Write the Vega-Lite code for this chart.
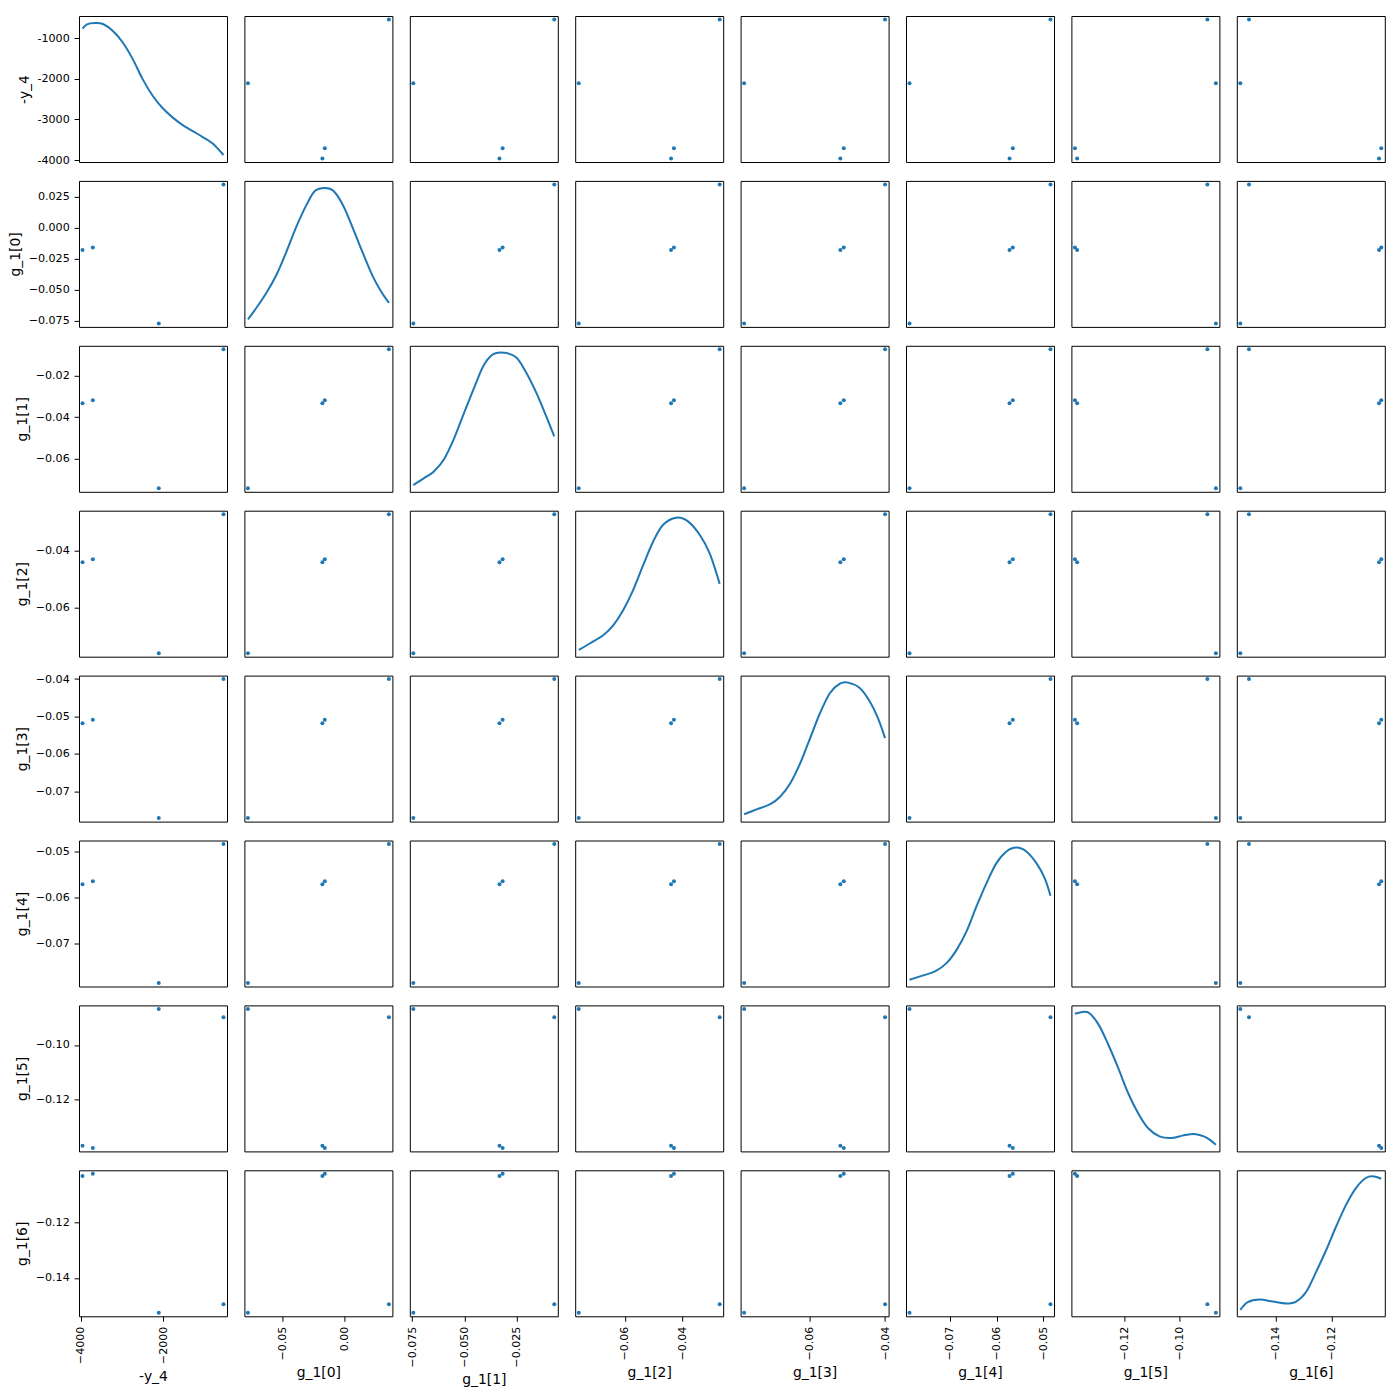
{
"$schema": "https://vega.github.io/schema/vega-lite/v6.json",
"background": "white",
"padding": {"left": 8, "top": 15, "right": 5, "bottom": 5},
"datasets": {
"pts": [
{"y4": -540, "g0": 0.0352, "g1": -0.0071, "g2": -0.0272, "g3": -0.0400, "g4": -0.0484, "g5": -0.0898, "g6": -0.1496},
{"y4": -2110, "g0": -0.0774, "g1": -0.0745, "g2": -0.0759, "g3": -0.0772, "g4": -0.0787, "g5": -0.0867, "g6": -0.1527},
{"y4": -3710, "g0": -0.0160, "g1": -0.0318, "g2": -0.0430, "g3": -0.0509, "g4": -0.0565, "g5": -0.1380, "g6": -0.1022},
{"y4": -3960, "g0": -0.0179, "g1": -0.0333, "g2": -0.0440, "g3": -0.0518, "g4": -0.0572, "g5": -0.1372, "g6": -0.1030}
],
"kde": [
{"v":"y4","x":-3960,"d":0.913},{"v":"y4","x":-3852,"d":0.943},{"v":"y4","x":-3665,"d":0.952},{"v":"y4","x":-3464,"d":0.945},{"v":"y4","x":-3223,"d":0.897},{"v":"y4","x":-2979,"d":0.817},{"v":"y4","x":-2738,"d":0.703},{"v":"y4","x":-2498,"d":0.566},{"v":"y4","x":-2254,"d":0.452},{"v":"y4","x":-2013,"d":0.368},{"v":"y4","x":-1769,"d":0.304},{"v":"y4","x":-1528,"d":0.253},{"v":"y4","x":-1284,"d":0.212},{"v":"y4","x":-1043,"d":0.171},{"v":"y4","x":-803,"d":0.126},{"v":"y4","x":-540,"d":0.048},
{"v":"g0","x":-0.0774,"d":0.052},{"v":"g0","x":-0.07017,"d":0.136},{"v":"g0","x":-0.06224,"d":0.239},{"v":"g0","x":-0.0542,"d":0.364},{"v":"g0","x":-0.04628,"d":0.523},{"v":"g0","x":-0.03836,"d":0.693},{"v":"g0","x":-0.03032,"d":0.841},{"v":"g0","x":-0.0237,"d":0.932},{"v":"g0","x":-0.01578,"d":0.952},{"v":"g0","x":-0.00916,"d":0.932},{"v":"g0","x":-0.00124,"d":0.83},{"v":"g0","x":0.00669,"d":0.67},{"v":"g0","x":0.01472,"d":0.5},{"v":"g0","x":0.02265,"d":0.341},{"v":"g0","x":0.02927,"d":0.239},{"v":"g0","x":0.0352,"d":0.164},
{"v":"g1","x":-0.0745,"d":0.046},{"v":"g1","x":-0.06953,"d":0.092},{"v":"g1","x":-0.06479,"d":0.138},{"v":"g1","x":-0.06005,"d":0.218},{"v":"g1","x":-0.05531,"d":0.356},{"v":"g1","x":-0.05057,"d":0.529},{"v":"g1","x":-0.04575,"d":0.701},{"v":"g1","x":-0.04101,"d":0.862},{"v":"g1","x":-0.03627,"d":0.943},{"v":"g1","x":-0.03075,"d":0.952},{"v":"g1","x":-0.02523,"d":0.92},{"v":"g1","x":-0.02049,"d":0.816},{"v":"g1","x":-0.01567,"d":0.678},{"v":"g1","x":-0.01093,"d":0.517},{"v":"g1","x":-0.0071,"d":0.379},
{"v":"g2","x":-0.0759,"d":0.046},{"v":"g2","x":-0.07195,"d":0.092},{"v":"g2","x":-0.06735,"d":0.149},{"v":"g2","x":-0.06392,"d":0.217},{"v":"g2","x":-0.0605,"d":0.32},{"v":"g2","x":-0.05707,"d":0.458},{"v":"g2","x":-0.0536,"d":0.629},{"v":"g2","x":-0.05017,"d":0.789},{"v":"g2","x":-0.04674,"d":0.904},{"v":"g2","x":-0.04214,"d":0.952},{"v":"g2","x":-0.03815,"d":0.927},{"v":"g2","x":-0.03411,"d":0.835},{"v":"g2","x":-0.03069,"d":0.709},{"v":"g2","x":-0.0272,"d":0.499},
{"v":"g3","x":-0.0772,"d":0.05},{"v":"g3","x":-0.07376,"d":0.085},{"v":"g3","x":-0.07028,"d":0.119},{"v":"g3","x":-0.06766,"d":0.172},{"v":"g3","x":-0.06501,"d":0.263},{"v":"g3","x":-0.06239,"d":0.4},{"v":"g3","x":-0.05977,"d":0.572},{"v":"g3","x":-0.05716,"d":0.744},{"v":"g3","x":-0.05454,"d":0.881},{"v":"g3","x":-0.05192,"d":0.945},{"v":"g3","x":-0.04973,"d":0.952},{"v":"g3","x":-0.04669,"d":0.915},{"v":"g3","x":-0.04407,"d":0.824},{"v":"g3","x":-0.04188,"d":0.709},{"v":"g3","x":-0.04,"d":0.572},
{"v":"g4","x":-0.0787,"d":0.046},{"v":"g4","x":-0.07609,"d":0.073},{"v":"g4","x":-0.07322,"d":0.103},{"v":"g4","x":-0.07074,"d":0.16},{"v":"g4","x":-0.06858,"d":0.251},{"v":"g4","x":-0.06645,"d":0.377},{"v":"g4","x":-0.06431,"d":0.548},{"v":"g4","x":-0.06215,"d":0.708},{"v":"g4","x":-0.06002,"d":0.845},{"v":"g4","x":-0.05786,"d":0.925},{"v":"g4","x":-0.05572,"d":0.952},{"v":"g4","x":-0.05359,"d":0.925},{"v":"g4","x":-0.05143,"d":0.845},{"v":"g4","x":-0.04965,"d":0.742},{"v":"g4","x":-0.0484,"d":0.621},
{"v":"g5","x":-0.138,"d":0.943},{"v":"g5","x":-0.13605,"d":0.952},{"v":"g5","x":-0.13303,"d":0.95},{"v":"g5","x":-0.12943,"d":0.87},{"v":"g5","x":-0.12587,"d":0.732},{"v":"g5","x":-0.12226,"d":0.572},{"v":"g5","x":-0.11865,"d":0.4},{"v":"g5","x":-0.11504,"d":0.263},{"v":"g5","x":-0.11143,"d":0.16},{"v":"g5","x":-0.10723,"d":0.103},{"v":"g5","x":-0.10303,"d":0.092},{"v":"g5","x":-0.09883,"d":0.108},{"v":"g5","x":-0.09463,"d":0.119},{"v":"g5","x":-0.09107,"d":0.103},{"v":"g5","x":-0.08865,"d":0.076},{"v":"g5","x":-0.0867,"d":0.046},
{"v":"g6","x":-0.1527,"d":0.044},{"v":"g6","x":-0.15004,"d":0.097},{"v":"g6","x":-0.14585,"d":0.115},{"v":"g6","x":-0.14108,"d":0.101},{"v":"g6","x":-0.13631,"d":0.088},{"v":"g6","x":-0.1327,"d":0.101},{"v":"g6","x":-0.12915,"d":0.166},{"v":"g6","x":-0.12554,"d":0.304},{"v":"g6","x":-0.12194,"d":0.454},{"v":"g6","x":-0.11838,"d":0.615},{"v":"g6","x":-0.11478,"d":0.765},{"v":"g6","x":-0.11122,"d":0.88},{"v":"g6","x":-0.10762,"d":0.949},{"v":"g6","x":-0.10465,"d":0.958},{"v":"g6","x":-0.1022,"d":0.942}
]
},
"columns": 8,
"spacing": {"row": 18.9, "column": 17.4},
"bounds": "flush",
"concat": [
{"layer":[{"data":{"name":"pts"},"mark":{"type":"circle","opacity":0},"encoding":{"x":{"field":"y4","type":"quantitative","scale":{"domain":[-4045.5,-454.5],"nice":false},"axis":null},"y":{"field":"y4","type":"quantitative","scale":{"domain":[-4045.5,-454.5],"nice":false},"axis":{"title":"-y_4","values":[-1000,-2000,-3000,-4000],"labelExpr":"toString(datum.value)"}}}},{"data":{"name":"kde"},"transform":[{"filter":"datum.v==='y4'"}],"mark":"line","encoding":{"x":{"field":"x","type":"quantitative","scale":{"domain":[-4045.5,-454.5],"nice":false},"axis":null},"y":{"field":"d","type":"quantitative","scale":{"domain":[0,1],"nice":false},"axis":null}}}],"resolve":{"scale":{"y":"independent"}}},
{"data":{"name":"pts"},"mark":"circle","encoding":{"x":{"field":"g0","type":"quantitative","scale":{"domain":[-0.080215,0.038015],"nice":false},"axis":null},"y":{"field":"y4","type":"quantitative","scale":{"domain":[-4045.5,-454.5],"nice":false},"axis":null}}},
{"data":{"name":"pts"},"mark":"circle","encoding":{"x":{"field":"g1","type":"quantitative","scale":{"domain":[-0.076185,-0.005415],"nice":false},"axis":null},"y":{"field":"y4","type":"quantitative","scale":{"domain":[-4045.5,-454.5],"nice":false},"axis":null}}},
{"data":{"name":"pts"},"mark":"circle","encoding":{"x":{"field":"g2","type":"quantitative","scale":{"domain":[-0.0771175,-0.0259825],"nice":false},"axis":null},"y":{"field":"y4","type":"quantitative","scale":{"domain":[-4045.5,-454.5],"nice":false},"axis":null}}},
{"data":{"name":"pts"},"mark":"circle","encoding":{"x":{"field":"g3","type":"quantitative","scale":{"domain":[-0.07813,-0.03907],"nice":false},"axis":null},"y":{"field":"y4","type":"quantitative","scale":{"domain":[-4045.5,-454.5],"nice":false},"axis":null}}},
{"data":{"name":"pts"},"mark":"circle","encoding":{"x":{"field":"g4","type":"quantitative","scale":{"domain":[-0.0794575,-0.0476425],"nice":false},"axis":null},"y":{"field":"y4","type":"quantitative","scale":{"domain":[-4045.5,-454.5],"nice":false},"axis":null}}},
{"data":{"name":"pts"},"mark":"circle","encoding":{"x":{"field":"g5","type":"quantitative","scale":{"domain":[-0.1392825,-0.0854175],"nice":false},"axis":null},"y":{"field":"y4","type":"quantitative","scale":{"domain":[-4045.5,-454.5],"nice":false},"axis":null}}},
{"data":{"name":"pts"},"mark":"circle","encoding":{"x":{"field":"g6","type":"quantitative","scale":{"domain":[-0.1539625,-0.1009375],"nice":false},"axis":null},"y":{"field":"y4","type":"quantitative","scale":{"domain":[-4045.5,-454.5],"nice":false},"axis":null}}},

{"data":{"name":"pts"},"mark":"circle","encoding":{"x":{"field":"y4","type":"quantitative","scale":{"domain":[-4045.5,-454.5],"nice":false},"axis":null},"y":{"field":"g0","type":"quantitative","scale":{"domain":[-0.080215,0.038015],"nice":false},"axis":{"title":"g_1[0]","values":[0.025,0,-0.025,-0.05,-0.075],"format":".3f"}}}},
{"data":{"name":"kde"},"transform":[{"filter":"datum.v==='g0'"}],"mark":"line","encoding":{"x":{"field":"x","type":"quantitative","scale":{"domain":[-0.080215,0.038015],"nice":false},"axis":null},"y":{"field":"d","type":"quantitative","scale":{"domain":[0,1],"nice":false},"axis":null}}},
{"data":{"name":"pts"},"mark":"circle","encoding":{"x":{"field":"g1","type":"quantitative","scale":{"domain":[-0.076185,-0.005415],"nice":false},"axis":null},"y":{"field":"g0","type":"quantitative","scale":{"domain":[-0.080215,0.038015],"nice":false},"axis":null}}},
{"data":{"name":"pts"},"mark":"circle","encoding":{"x":{"field":"g2","type":"quantitative","scale":{"domain":[-0.0771175,-0.0259825],"nice":false},"axis":null},"y":{"field":"g0","type":"quantitative","scale":{"domain":[-0.080215,0.038015],"nice":false},"axis":null}}},
{"data":{"name":"pts"},"mark":"circle","encoding":{"x":{"field":"g3","type":"quantitative","scale":{"domain":[-0.07813,-0.03907],"nice":false},"axis":null},"y":{"field":"g0","type":"quantitative","scale":{"domain":[-0.080215,0.038015],"nice":false},"axis":null}}},
{"data":{"name":"pts"},"mark":"circle","encoding":{"x":{"field":"g4","type":"quantitative","scale":{"domain":[-0.0794575,-0.0476425],"nice":false},"axis":null},"y":{"field":"g0","type":"quantitative","scale":{"domain":[-0.080215,0.038015],"nice":false},"axis":null}}},
{"data":{"name":"pts"},"mark":"circle","encoding":{"x":{"field":"g5","type":"quantitative","scale":{"domain":[-0.1392825,-0.0854175],"nice":false},"axis":null},"y":{"field":"g0","type":"quantitative","scale":{"domain":[-0.080215,0.038015],"nice":false},"axis":null}}},
{"data":{"name":"pts"},"mark":"circle","encoding":{"x":{"field":"g6","type":"quantitative","scale":{"domain":[-0.1539625,-0.1009375],"nice":false},"axis":null},"y":{"field":"g0","type":"quantitative","scale":{"domain":[-0.080215,0.038015],"nice":false},"axis":null}}},

{"data":{"name":"pts"},"mark":"circle","encoding":{"x":{"field":"y4","type":"quantitative","scale":{"domain":[-4045.5,-454.5],"nice":false},"axis":null},"y":{"field":"g1","type":"quantitative","scale":{"domain":[-0.076185,-0.005415],"nice":false},"axis":{"title":"g_1[1]","values":[-0.02,-0.04,-0.06],"format":".2f"}}}},
{"data":{"name":"pts"},"mark":"circle","encoding":{"x":{"field":"g0","type":"quantitative","scale":{"domain":[-0.080215,0.038015],"nice":false},"axis":null},"y":{"field":"g1","type":"quantitative","scale":{"domain":[-0.076185,-0.005415],"nice":false},"axis":null}}},
{"data":{"name":"kde"},"transform":[{"filter":"datum.v==='g1'"}],"mark":"line","encoding":{"x":{"field":"x","type":"quantitative","scale":{"domain":[-0.076185,-0.005415],"nice":false},"axis":null},"y":{"field":"d","type":"quantitative","scale":{"domain":[0,1],"nice":false},"axis":null}}},
{"data":{"name":"pts"},"mark":"circle","encoding":{"x":{"field":"g2","type":"quantitative","scale":{"domain":[-0.0771175,-0.0259825],"nice":false},"axis":null},"y":{"field":"g1","type":"quantitative","scale":{"domain":[-0.076185,-0.005415],"nice":false},"axis":null}}},
{"data":{"name":"pts"},"mark":"circle","encoding":{"x":{"field":"g3","type":"quantitative","scale":{"domain":[-0.07813,-0.03907],"nice":false},"axis":null},"y":{"field":"g1","type":"quantitative","scale":{"domain":[-0.076185,-0.005415],"nice":false},"axis":null}}},
{"data":{"name":"pts"},"mark":"circle","encoding":{"x":{"field":"g4","type":"quantitative","scale":{"domain":[-0.0794575,-0.0476425],"nice":false},"axis":null},"y":{"field":"g1","type":"quantitative","scale":{"domain":[-0.076185,-0.005415],"nice":false},"axis":null}}},
{"data":{"name":"pts"},"mark":"circle","encoding":{"x":{"field":"g5","type":"quantitative","scale":{"domain":[-0.1392825,-0.0854175],"nice":false},"axis":null},"y":{"field":"g1","type":"quantitative","scale":{"domain":[-0.076185,-0.005415],"nice":false},"axis":null}}},
{"data":{"name":"pts"},"mark":"circle","encoding":{"x":{"field":"g6","type":"quantitative","scale":{"domain":[-0.1539625,-0.1009375],"nice":false},"axis":null},"y":{"field":"g1","type":"quantitative","scale":{"domain":[-0.076185,-0.005415],"nice":false},"axis":null}}},

{"data":{"name":"pts"},"mark":"circle","encoding":{"x":{"field":"y4","type":"quantitative","scale":{"domain":[-4045.5,-454.5],"nice":false},"axis":null},"y":{"field":"g2","type":"quantitative","scale":{"domain":[-0.0771175,-0.0259825],"nice":false},"axis":{"title":"g_1[2]","values":[-0.04,-0.06],"format":".2f"}}}},
{"data":{"name":"pts"},"mark":"circle","encoding":{"x":{"field":"g0","type":"quantitative","scale":{"domain":[-0.080215,0.038015],"nice":false},"axis":null},"y":{"field":"g2","type":"quantitative","scale":{"domain":[-0.0771175,-0.0259825],"nice":false},"axis":null}}},
{"data":{"name":"pts"},"mark":"circle","encoding":{"x":{"field":"g1","type":"quantitative","scale":{"domain":[-0.076185,-0.005415],"nice":false},"axis":null},"y":{"field":"g2","type":"quantitative","scale":{"domain":[-0.0771175,-0.0259825],"nice":false},"axis":null}}},
{"data":{"name":"kde"},"transform":[{"filter":"datum.v==='g2'"}],"mark":"line","encoding":{"x":{"field":"x","type":"quantitative","scale":{"domain":[-0.0771175,-0.0259825],"nice":false},"axis":null},"y":{"field":"d","type":"quantitative","scale":{"domain":[0,1],"nice":false},"axis":null}}},
{"data":{"name":"pts"},"mark":"circle","encoding":{"x":{"field":"g3","type":"quantitative","scale":{"domain":[-0.07813,-0.03907],"nice":false},"axis":null},"y":{"field":"g2","type":"quantitative","scale":{"domain":[-0.0771175,-0.0259825],"nice":false},"axis":null}}},
{"data":{"name":"pts"},"mark":"circle","encoding":{"x":{"field":"g4","type":"quantitative","scale":{"domain":[-0.0794575,-0.0476425],"nice":false},"axis":null},"y":{"field":"g2","type":"quantitative","scale":{"domain":[-0.0771175,-0.0259825],"nice":false},"axis":null}}},
{"data":{"name":"pts"},"mark":"circle","encoding":{"x":{"field":"g5","type":"quantitative","scale":{"domain":[-0.1392825,-0.0854175],"nice":false},"axis":null},"y":{"field":"g2","type":"quantitative","scale":{"domain":[-0.0771175,-0.0259825],"nice":false},"axis":null}}},
{"data":{"name":"pts"},"mark":"circle","encoding":{"x":{"field":"g6","type":"quantitative","scale":{"domain":[-0.1539625,-0.1009375],"nice":false},"axis":null},"y":{"field":"g2","type":"quantitative","scale":{"domain":[-0.0771175,-0.0259825],"nice":false},"axis":null}}},

{"data":{"name":"pts"},"mark":"circle","encoding":{"x":{"field":"y4","type":"quantitative","scale":{"domain":[-4045.5,-454.5],"nice":false},"axis":null},"y":{"field":"g3","type":"quantitative","scale":{"domain":[-0.07813,-0.03907],"nice":false},"axis":{"title":"g_1[3]","values":[-0.04,-0.05,-0.06,-0.07],"format":".2f"}}}},
{"data":{"name":"pts"},"mark":"circle","encoding":{"x":{"field":"g0","type":"quantitative","scale":{"domain":[-0.080215,0.038015],"nice":false},"axis":null},"y":{"field":"g3","type":"quantitative","scale":{"domain":[-0.07813,-0.03907],"nice":false},"axis":null}}},
{"data":{"name":"pts"},"mark":"circle","encoding":{"x":{"field":"g1","type":"quantitative","scale":{"domain":[-0.076185,-0.005415],"nice":false},"axis":null},"y":{"field":"g3","type":"quantitative","scale":{"domain":[-0.07813,-0.03907],"nice":false},"axis":null}}},
{"data":{"name":"pts"},"mark":"circle","encoding":{"x":{"field":"g2","type":"quantitative","scale":{"domain":[-0.0771175,-0.0259825],"nice":false},"axis":null},"y":{"field":"g3","type":"quantitative","scale":{"domain":[-0.07813,-0.03907],"nice":false},"axis":null}}},
{"data":{"name":"kde"},"transform":[{"filter":"datum.v==='g3'"}],"mark":"line","encoding":{"x":{"field":"x","type":"quantitative","scale":{"domain":[-0.07813,-0.03907],"nice":false},"axis":null},"y":{"field":"d","type":"quantitative","scale":{"domain":[0,1],"nice":false},"axis":null}}},
{"data":{"name":"pts"},"mark":"circle","encoding":{"x":{"field":"g4","type":"quantitative","scale":{"domain":[-0.0794575,-0.0476425],"nice":false},"axis":null},"y":{"field":"g3","type":"quantitative","scale":{"domain":[-0.07813,-0.03907],"nice":false},"axis":null}}},
{"data":{"name":"pts"},"mark":"circle","encoding":{"x":{"field":"g5","type":"quantitative","scale":{"domain":[-0.1392825,-0.0854175],"nice":false},"axis":null},"y":{"field":"g3","type":"quantitative","scale":{"domain":[-0.07813,-0.03907],"nice":false},"axis":null}}},
{"data":{"name":"pts"},"mark":"circle","encoding":{"x":{"field":"g6","type":"quantitative","scale":{"domain":[-0.1539625,-0.1009375],"nice":false},"axis":null},"y":{"field":"g3","type":"quantitative","scale":{"domain":[-0.07813,-0.03907],"nice":false},"axis":null}}},

{"data":{"name":"pts"},"mark":"circle","encoding":{"x":{"field":"y4","type":"quantitative","scale":{"domain":[-4045.5,-454.5],"nice":false},"axis":null},"y":{"field":"g4","type":"quantitative","scale":{"domain":[-0.0794575,-0.0476425],"nice":false},"axis":{"title":"g_1[4]","values":[-0.05,-0.06,-0.07],"format":".2f"}}}},
{"data":{"name":"pts"},"mark":"circle","encoding":{"x":{"field":"g0","type":"quantitative","scale":{"domain":[-0.080215,0.038015],"nice":false},"axis":null},"y":{"field":"g4","type":"quantitative","scale":{"domain":[-0.0794575,-0.0476425],"nice":false},"axis":null}}},
{"data":{"name":"pts"},"mark":"circle","encoding":{"x":{"field":"g1","type":"quantitative","scale":{"domain":[-0.076185,-0.005415],"nice":false},"axis":null},"y":{"field":"g4","type":"quantitative","scale":{"domain":[-0.0794575,-0.0476425],"nice":false},"axis":null}}},
{"data":{"name":"pts"},"mark":"circle","encoding":{"x":{"field":"g2","type":"quantitative","scale":{"domain":[-0.0771175,-0.0259825],"nice":false},"axis":null},"y":{"field":"g4","type":"quantitative","scale":{"domain":[-0.0794575,-0.0476425],"nice":false},"axis":null}}},
{"data":{"name":"pts"},"mark":"circle","encoding":{"x":{"field":"g3","type":"quantitative","scale":{"domain":[-0.07813,-0.03907],"nice":false},"axis":null},"y":{"field":"g4","type":"quantitative","scale":{"domain":[-0.0794575,-0.0476425],"nice":false},"axis":null}}},
{"data":{"name":"kde"},"transform":[{"filter":"datum.v==='g4'"}],"mark":"line","encoding":{"x":{"field":"x","type":"quantitative","scale":{"domain":[-0.0794575,-0.0476425],"nice":false},"axis":null},"y":{"field":"d","type":"quantitative","scale":{"domain":[0,1],"nice":false},"axis":null}}},
{"data":{"name":"pts"},"mark":"circle","encoding":{"x":{"field":"g5","type":"quantitative","scale":{"domain":[-0.1392825,-0.0854175],"nice":false},"axis":null},"y":{"field":"g4","type":"quantitative","scale":{"domain":[-0.0794575,-0.0476425],"nice":false},"axis":null}}},
{"data":{"name":"pts"},"mark":"circle","encoding":{"x":{"field":"g6","type":"quantitative","scale":{"domain":[-0.1539625,-0.1009375],"nice":false},"axis":null},"y":{"field":"g4","type":"quantitative","scale":{"domain":[-0.0794575,-0.0476425],"nice":false},"axis":null}}},

{"data":{"name":"pts"},"mark":"circle","encoding":{"x":{"field":"y4","type":"quantitative","scale":{"domain":[-4045.5,-454.5],"nice":false},"axis":null},"y":{"field":"g5","type":"quantitative","scale":{"domain":[-0.1392825,-0.0854175],"nice":false},"axis":{"title":"g_1[5]","values":[-0.1,-0.12],"format":".2f"}}}},
{"data":{"name":"pts"},"mark":"circle","encoding":{"x":{"field":"g0","type":"quantitative","scale":{"domain":[-0.080215,0.038015],"nice":false},"axis":null},"y":{"field":"g5","type":"quantitative","scale":{"domain":[-0.1392825,-0.0854175],"nice":false},"axis":null}}},
{"data":{"name":"pts"},"mark":"circle","encoding":{"x":{"field":"g1","type":"quantitative","scale":{"domain":[-0.076185,-0.005415],"nice":false},"axis":null},"y":{"field":"g5","type":"quantitative","scale":{"domain":[-0.1392825,-0.0854175],"nice":false},"axis":null}}},
{"data":{"name":"pts"},"mark":"circle","encoding":{"x":{"field":"g2","type":"quantitative","scale":{"domain":[-0.0771175,-0.0259825],"nice":false},"axis":null},"y":{"field":"g5","type":"quantitative","scale":{"domain":[-0.1392825,-0.0854175],"nice":false},"axis":null}}},
{"data":{"name":"pts"},"mark":"circle","encoding":{"x":{"field":"g3","type":"quantitative","scale":{"domain":[-0.07813,-0.03907],"nice":false},"axis":null},"y":{"field":"g5","type":"quantitative","scale":{"domain":[-0.1392825,-0.0854175],"nice":false},"axis":null}}},
{"data":{"name":"pts"},"mark":"circle","encoding":{"x":{"field":"g4","type":"quantitative","scale":{"domain":[-0.0794575,-0.0476425],"nice":false},"axis":null},"y":{"field":"g5","type":"quantitative","scale":{"domain":[-0.1392825,-0.0854175],"nice":false},"axis":null}}},
{"data":{"name":"kde"},"transform":[{"filter":"datum.v==='g5'"}],"mark":"line","encoding":{"x":{"field":"x","type":"quantitative","scale":{"domain":[-0.1392825,-0.0854175],"nice":false},"axis":null},"y":{"field":"d","type":"quantitative","scale":{"domain":[0,1],"nice":false},"axis":null}}},
{"data":{"name":"pts"},"mark":"circle","encoding":{"x":{"field":"g6","type":"quantitative","scale":{"domain":[-0.1539625,-0.1009375],"nice":false},"axis":null},"y":{"field":"g5","type":"quantitative","scale":{"domain":[-0.1392825,-0.0854175],"nice":false},"axis":null}}},

{"data":{"name":"pts"},"mark":"circle","encoding":{"x":{"field":"y4","type":"quantitative","scale":{"domain":[-4045.5,-454.5],"nice":false},"axis":{"title":"-y_4","values":[-4000,-2000],"format":"d"}},"y":{"field":"g6","type":"quantitative","scale":{"domain":[-0.1539625,-0.1009375],"nice":false},"axis":{"title":"g_1[6]","values":[-0.12,-0.14],"format":".2f"}}}},
{"data":{"name":"pts"},"mark":"circle","encoding":{"x":{"field":"g0","type":"quantitative","scale":{"domain":[-0.080215,0.038015],"nice":false},"axis":{"title":"g_1[0]","values":[-0.05,0],"format":".2f"}},"y":{"field":"g6","type":"quantitative","scale":{"domain":[-0.1539625,-0.1009375],"nice":false},"axis":null}}},
{"data":{"name":"pts"},"mark":"circle","encoding":{"x":{"field":"g1","type":"quantitative","scale":{"domain":[-0.076185,-0.005415],"nice":false},"axis":{"title":"g_1[1]","values":[-0.075,-0.05,-0.025],"format":".3f"}},"y":{"field":"g6","type":"quantitative","scale":{"domain":[-0.1539625,-0.1009375],"nice":false},"axis":null}}},
{"data":{"name":"pts"},"mark":"circle","encoding":{"x":{"field":"g2","type":"quantitative","scale":{"domain":[-0.0771175,-0.0259825],"nice":false},"axis":{"title":"g_1[2]","values":[-0.06,-0.04],"format":".2f"}},"y":{"field":"g6","type":"quantitative","scale":{"domain":[-0.1539625,-0.1009375],"nice":false},"axis":null}}},
{"data":{"name":"pts"},"mark":"circle","encoding":{"x":{"field":"g3","type":"quantitative","scale":{"domain":[-0.07813,-0.03907],"nice":false},"axis":{"title":"g_1[3]","values":[-0.06,-0.04],"format":".2f"}},"y":{"field":"g6","type":"quantitative","scale":{"domain":[-0.1539625,-0.1009375],"nice":false},"axis":null}}},
{"data":{"name":"pts"},"mark":"circle","encoding":{"x":{"field":"g4","type":"quantitative","scale":{"domain":[-0.0794575,-0.0476425],"nice":false},"axis":{"title":"g_1[4]","values":[-0.07,-0.06,-0.05],"format":".2f"}},"y":{"field":"g6","type":"quantitative","scale":{"domain":[-0.1539625,-0.1009375],"nice":false},"axis":null}}},
{"data":{"name":"pts"},"mark":"circle","encoding":{"x":{"field":"g5","type":"quantitative","scale":{"domain":[-0.1392825,-0.0854175],"nice":false},"axis":{"title":"g_1[5]","values":[-0.12,-0.1],"format":".2f"}},"y":{"field":"g6","type":"quantitative","scale":{"domain":[-0.1539625,-0.1009375],"nice":false},"axis":null}}},
{"data":{"name":"kde"},"transform":[{"filter":"datum.v==='g6'"}],"mark":"line","encoding":{"x":{"field":"x","type":"quantitative","scale":{"domain":[-0.1539625,-0.1009375],"nice":false},"axis":{"title":"g_1[6]","values":[-0.14,-0.12],"format":".2f"}},"y":{"field":"d","type":"quantitative","scale":{"domain":[0,1],"nice":false},"axis":null}}}
],
"config": {
"view": {"stroke": "black", "strokeWidth": 1, "continuousWidth": 148, "continuousHeight": 146},
"axis": {"grid": false, "domain": false, "ticks": true, "tickColor": "black", "tickWidth": 1, "tickSize": 4.9, "labelFont": "DejaVu Sans", "labelFontSize": 11.1, "labelColor": "black", "labelPadding": 4.9, "labelFlush": false, "labelOverlap": false, "labelBound": false, "titleFont": "DejaVu Sans", "titleFontSize": 13.9, "titleFontWeight": "normal", "titleColor": "black", "titlePadding": 5.6},
"axisX": {"labelAngle": -90},
"circle": {"color": "#1f77b4", "size": 16, "opacity": 1},
"line": {"color": "#1f77b4", "strokeWidth": 2, "interpolate": "cardinal"}
}
}
